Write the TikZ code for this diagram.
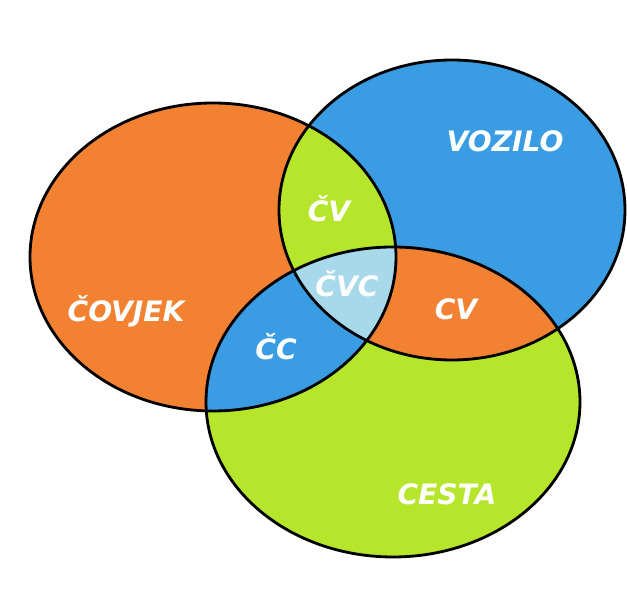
\documentclass[tikz,border=0pt]{standalone}
\usepackage{fontspec}
\usepackage{xcolor}
\usepackage{tikz}
\newfontfamily\venfont{DejaVu Sans}

\definecolor{covorange}{HTML}{F28232}
\definecolor{vozblue}{HTML}{3A9DE3}
\definecolor{cestgreen}{HTML}{B5E62C}
\definecolor{allblue}{HTML}{A8D9EA}

\begin{document}
\begin{tikzpicture}[
    x=0.02cm, y=0.02cm,
    covr/.style={x radius=183, y radius=154},
    vozr/.style={x radius=173, y radius=150},
    cesr/.style={x radius=187, y radius=155},
    outline/.style={draw=black, line width=1.6pt},
    setlabel/.style={text=white, anchor=base, inner sep=0pt,
                     font=\venfont\fontsize{16}{18}\selectfont\bfseries\itshape},
]

% ── Canvas ──
\fill[white] (0,0) rectangle (627,594);

% ── Set centres ──
\coordinate (cov) at (213,337);
\coordinate (voz) at (452,384);
\coordinate (ces) at (393,192);

% ── Single sets ──
\fill[covorange] (cov) ellipse [covr];
\fill[vozblue] (voz) ellipse [vozr];
\fill[cestgreen] (ces) ellipse [cesr];

% ── Pairwise overlaps ──
\begin{scope}
  \clip (cov) ellipse [covr];
  \fill[cestgreen] (voz) ellipse [vozr];
\end{scope}
\begin{scope}
  \clip (voz) ellipse [vozr];
  \fill[covorange] (ces) ellipse [cesr];
\end{scope}
\begin{scope}
  \clip (cov) ellipse [covr];
  \fill[vozblue] (ces) ellipse [cesr];
\end{scope}

% ── Triple overlap ──
\begin{scope}
  \clip (cov) ellipse [covr];
  \clip (voz) ellipse [vozr];
  \fill[allblue] (ces) ellipse [cesr];
\end{scope}

% ── Outlines ──
\draw[outline] (cov) ellipse [covr];
\draw[outline] (voz) ellipse [vozr];
\draw[outline] (ces) ellipse [cesr];

% ── Labels ──
\node[setlabel] (lcov) at (126,272) {ČOVJEK};
\node[setlabel] (lvoz) at (505,442) {VOZILO};
\node[setlabel] (lces) at (447,89) {CESTA};
\node[setlabel] (lcv) at (329,372) {ČV};
\node[setlabel] (lcvc) at (347,297) {ČVC};
\node[setlabel] (lvc) at (456,274) {CV};
\node[setlabel] (lcc) at (276,234) {ČC};

\end{tikzpicture}
\end{document}
